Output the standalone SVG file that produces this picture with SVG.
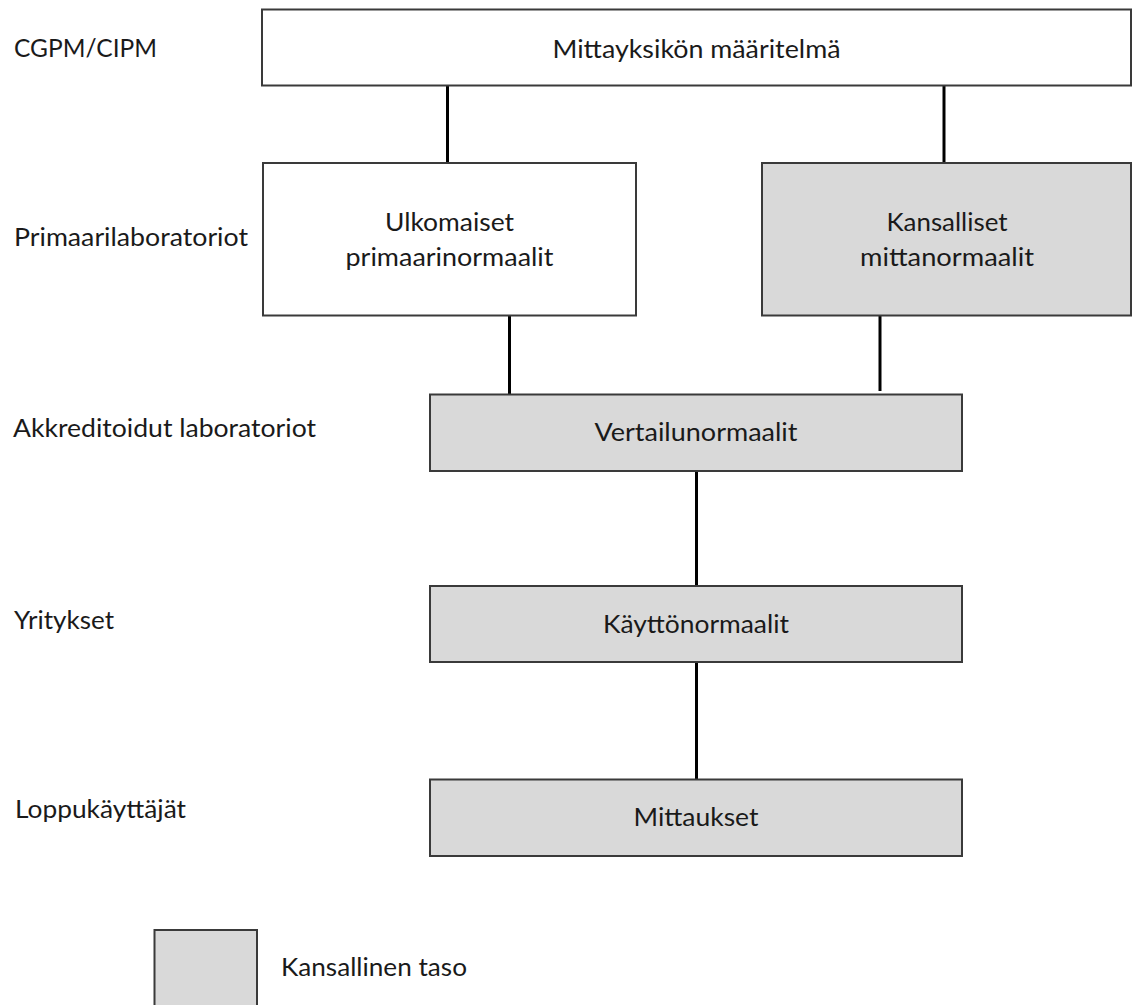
<svg xmlns="http://www.w3.org/2000/svg" width="1133" height="1005" viewBox="0 0 1133 1005">
  <style>
    .box { stroke: #3a3a3a; stroke-width: 2; }
    .white { fill: #ffffff; }
    .grey { fill: #d9d9d9; }
    .link { stroke: #000000; stroke-width: 3; fill: none; }
    text { font-family: Lato, "Noto Sans", "Liberation Sans", sans-serif; font-size: 25.5px; fill: #1a1a1a; }
    .mid { text-anchor: middle; }
  </style>
  <rect x="0" y="0" width="1133" height="1005" fill="#ffffff"/>

  <!-- level labels on the left -->
  <g id="levels">
    <text x="14" y="57" textLength="143" lengthAdjust="spacingAndGlyphs">CGPM/CIPM</text>
    <text x="14" y="246" textLength="234" lengthAdjust="spacingAndGlyphs">Primaarilaboratoriot</text>
    <text x="13" y="437" textLength="303" lengthAdjust="spacingAndGlyphs">Akkreditoidut laboratoriot</text>
    <text x="14" y="629" textLength="100" lengthAdjust="spacingAndGlyphs">Yritykset</text>
    <text x="15" y="818" textLength="171" lengthAdjust="spacingAndGlyphs">Loppukäyttäjät</text>
  </g>

  <!-- connectors between levels -->
  <g id="connectors">
    <line class="link" x1="447.5" y1="86" x2="447.5" y2="163"/>
    <line class="link" x1="944" y1="86" x2="944" y2="163"/>
    <line class="link" x1="509.5" y1="315" x2="509.5" y2="394"/>
    <line class="link" x1="880" y1="315" x2="880" y2="391"/>
    <line class="link" x1="696.5" y1="471" x2="696.5" y2="586"/>
    <line class="link" x1="696.5" y1="662" x2="696.5" y2="779"/>
  </g>

  <g id="node-definition">
    <rect class="box white" x="262" y="9.5" width="869" height="76"/>
    <text class="mid" x="696.5" y="58" textLength="288" lengthAdjust="spacingAndGlyphs">Mittayksikön määritelmä</text>
  </g>

  <g id="node-foreign-primary">
    <rect class="box white" x="263" y="163" width="373" height="152.5"/>
    <text class="mid" x="449.5" y="231" textLength="129" lengthAdjust="spacingAndGlyphs">Ulkomaiset</text>
    <text class="mid" x="449.5" y="266" textLength="208" lengthAdjust="spacingAndGlyphs">primaarinormaalit</text>
  </g>

  <g id="node-national-standards">
    <rect class="box grey" x="762" y="163" width="369" height="152.5"/>
    <text class="mid" x="947" y="231" textLength="121" lengthAdjust="spacingAndGlyphs">Kansalliset</text>
    <text class="mid" x="947" y="266" textLength="174" lengthAdjust="spacingAndGlyphs">mittanormaalit</text>
  </g>

  <g id="node-reference">
    <rect class="box grey" x="430" y="394.5" width="532" height="76.5"/>
    <text class="mid" x="696" y="441" textLength="203" lengthAdjust="spacingAndGlyphs">Vertailunormaalit</text>
  </g>

  <g id="node-working">
    <rect class="box grey" x="430" y="586" width="532" height="76"/>
    <text class="mid" x="696" y="633" textLength="186" lengthAdjust="spacingAndGlyphs">Käyttönormaalit</text>
  </g>

  <g id="node-measurements">
    <rect class="box grey" x="430" y="779.5" width="532" height="76.5"/>
    <text class="mid" x="696" y="826" textLength="125" lengthAdjust="spacingAndGlyphs">Mittaukset</text>
  </g>

  <g id="legend">
    <rect class="box grey" x="154.5" y="930" width="102.5" height="80"/>
    <text x="281" y="976" textLength="186" lengthAdjust="spacingAndGlyphs">Kansallinen taso</text>
  </g>
</svg>
